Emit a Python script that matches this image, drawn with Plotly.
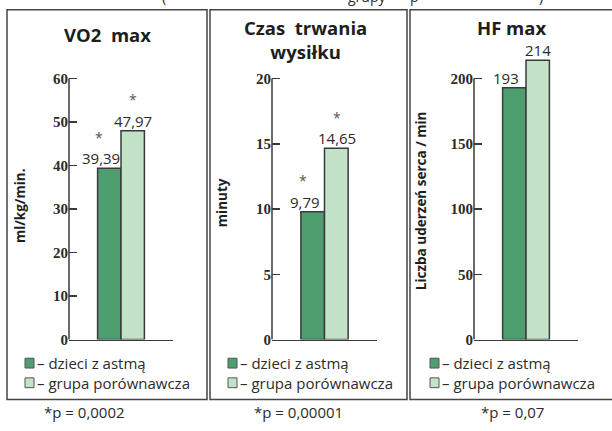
import plotly.graph_objects as go

W, H = 612, 431

# ---------------- data ----------------
panel_titles = ["VO2\u00a0 max", "Czas\u00a0 trwania<br>wysiłku", "HF max"]
y_titles = ["ml/kg/min.", "minuty", "Liczba uderzeń serca / min"]
categories = ["VO2 max", "Czas trwania wysiłku", "HF max"]
series_names = ["– dzieci z astmą", "– grupa porównawcza"]
vals_asthma = [39.39, 9.79, 193]
vals_control = [47.97, 14.65, 214]
labels_asthma = ["39,39", "9,79", "193"]
labels_control = ["47,97", "14,65", "214"]
significant = [True, True, False]
tick_vals = [[0, 10, 20, 30, 40, 50, 60], [0, 5, 10, 15, 20], [0, 50, 100, 150, 200]]
p_values = ["*p = 0,0002", "*p = 0,00001", "*p = 0,07"]

# ---------------- style / geometry ----------------
DARK = "#4f9e70"
LIGHT = "#c3e3c9"
EDGE = "#3a3a3a"
TXT = "#2b2b2b"
SANS = "Open Sans"
SERIF = "Liberation Serif"
COLORS = [DARK, LIGHT]

def px(x):
    return x / W

def py(y):
    return 1 - y / H

axis_x0 = [69, 272, 474]
axis_x1 = [173, 377, 578]
boxes = [(7, 207), (210, 407), (410, 618)]
title_x = [107, 305, 511]
title_y = [35, 40, 28]
ytitle_x = [20, 222, 421]
ytitle_y = [210, 207, 205]
foot_x = [84, 298, 512]
swatch_x = [25, 228, 430]
legend_rows = [370, 390]
Y_BASE, Y_TOPTICK, Y_DOMTOP = 346, 80, 40

fig = go.Figure()
annotations = []
shapes = []
layout = {}

for i in range(3):
    sfx = "" if i == 0 else str(i + 1)
    xa, ya = "x" + sfx, "y" + sfx
    cat = categories[i]
    for s, vals in enumerate([vals_asthma, vals_control]):
        fig.add_trace(go.Bar(
            x=[cat], y=[vals[i]], name=series_names[s],
            marker=dict(color=COLORS[s], line=dict(color=EDGE, width=1.5)),
            xaxis=xa, yaxis=ya, showlegend=False, hoverinfo="skip"))

    top = tick_vals[i][-1]
    yrange_top = top * (Y_BASE - Y_DOMTOP) / (Y_BASE - Y_TOPTICK)
    layout["xaxis" + sfx] = dict(
        domain=[px(axis_x0[i]), px(axis_x1[i])], anchor=ya, type="category",
        range=[-0.5, 0.5], showline=True, linecolor=EDGE, linewidth=1.5,
        showticklabels=False, ticks="", showgrid=False, zeroline=False, fixedrange=True)
    layout["yaxis" + sfx] = dict(
        domain=[py(Y_BASE), py(Y_DOMTOP)], anchor=xa, range=[0, yrange_top],
        tickvals=tick_vals[i], ticktext=[str(v) for v in tick_vals[i]],
        ticks="inside", ticklen=8, tickwidth=1.5, tickcolor=EDGE,
        tickfont=dict(family=SERIF, size=15, color=TXT, weight="bold"),
        showline=False, showgrid=False, zeroline=False, fixedrange=True)

    # y axis line from 0 to top tick
    shapes.append(dict(type="line", xref=xa + " domain", yref=ya,
                       x0=0, x1=0, y0=0, y1=top,
                       line=dict(color=EDGE, width=1.5)))
    # panel frame
    shapes.append(dict(type="rect", xref="paper", yref="paper",
                       x0=px(boxes[i][0]), x1=px(boxes[i][1]),
                       y0=py(407), y1=py(10),
                       line=dict(color="#444444", width=1.5)))

    # legend (swatch + label) for this panel
    for s in range(2):
        yc = legend_rows[s]
        shapes.append(dict(type="rect", xref="paper", yref="paper",
                           x0=px(swatch_x[i]), x1=px(swatch_x[i] + 9),
                           y0=py(yc + 5), y1=py(yc - 5),
                           fillcolor=COLORS[s], line=dict(color="#555555", width=1)))
        annotations.append(dict(x=px(swatch_x[i] + 10), y=py(yc), xref="paper", yref="paper",
                                text=series_names[s], showarrow=False,
                                xanchor="left", yanchor="middle",
                                font=dict(family=SANS, size=15, color=TXT)))

    # value labels
    for v, lab, xs, sxs in [(vals_asthma[i], labels_asthma[i], -20, -22),
                            (vals_control[i], labels_control[i], 12, 12)]:
        annotations.append(dict(x=cat, y=v, xref=xa, yref=ya, text=lab,
                                showarrow=False, xshift=xs, yshift=10,
                                yanchor="middle", borderpad=0,
                                font=dict(family=SANS, size=15, color=TXT)))
        if significant[i]:
            annotations.append(dict(x=cat, y=v, xref=xa, yref=ya, text="*",
                                    showarrow=False, xshift=sxs, yshift=31,
                                    yanchor="middle",
                                    font=dict(family=SANS, size=14, color="#555555")))

    # panel title
    annotations.append(dict(x=px(title_x[i]), y=py(title_y[i]), xref="paper", yref="paper",
                            text="<b>" + panel_titles[i] + "</b>", showarrow=False,
                            xanchor="center", yanchor="middle", borderpad=0,
                            font=dict(family=SANS, size=18.5, color="#1e1e1e")))
    # y-axis title
    annotations.append(dict(x=px(ytitle_x[i]), y=py(ytitle_y[i]), xref="paper", yref="paper",
                            text="<b>" + y_titles[i] + "</b>", showarrow=False,
                            textangle=-90, xanchor="center", yanchor="middle",
                            font=dict(family=SANS, size=13.5, color="#1e1e1e")))
    # footnote
    annotations.append(dict(x=px(foot_x[i]), y=py(420), xref="paper", yref="paper",
                            text=p_values[i], showarrow=False,
                            xanchor="center", yanchor="middle",
                            font=dict(family=SANS, size=15, color=TXT)))

# cut-off heading above the figure (only descenders visible)
for t, xpos in [("(", 160), ("grupy", 346), ("p", 408), (")", 537)]:
    annotations.append(dict(x=px(xpos), y=py(-4), xref="paper", yref="paper",
                            text=t, showarrow=False, xanchor="left", yanchor="middle",
                            font=dict(family=SANS, size=14, color=TXT)))

fig.update_layout(
    width=W, height=H, margin=dict(l=0, r=0, t=0, b=0),
    paper_bgcolor="white", plot_bgcolor="white",
    barmode="group", bargap=0.55, bargroupgap=0,
    shapes=shapes, annotations=annotations, **layout)

css = ("var st=document.createElement('style');"
       "st.textContent='html,body{margin:0!important;padding:0!important;overflow:hidden!important;}';"
       "document.head.appendChild(st);")
fig.write_html("out.html", config={"displayModeBar": False, "staticPlot": True},
               post_script=css)
